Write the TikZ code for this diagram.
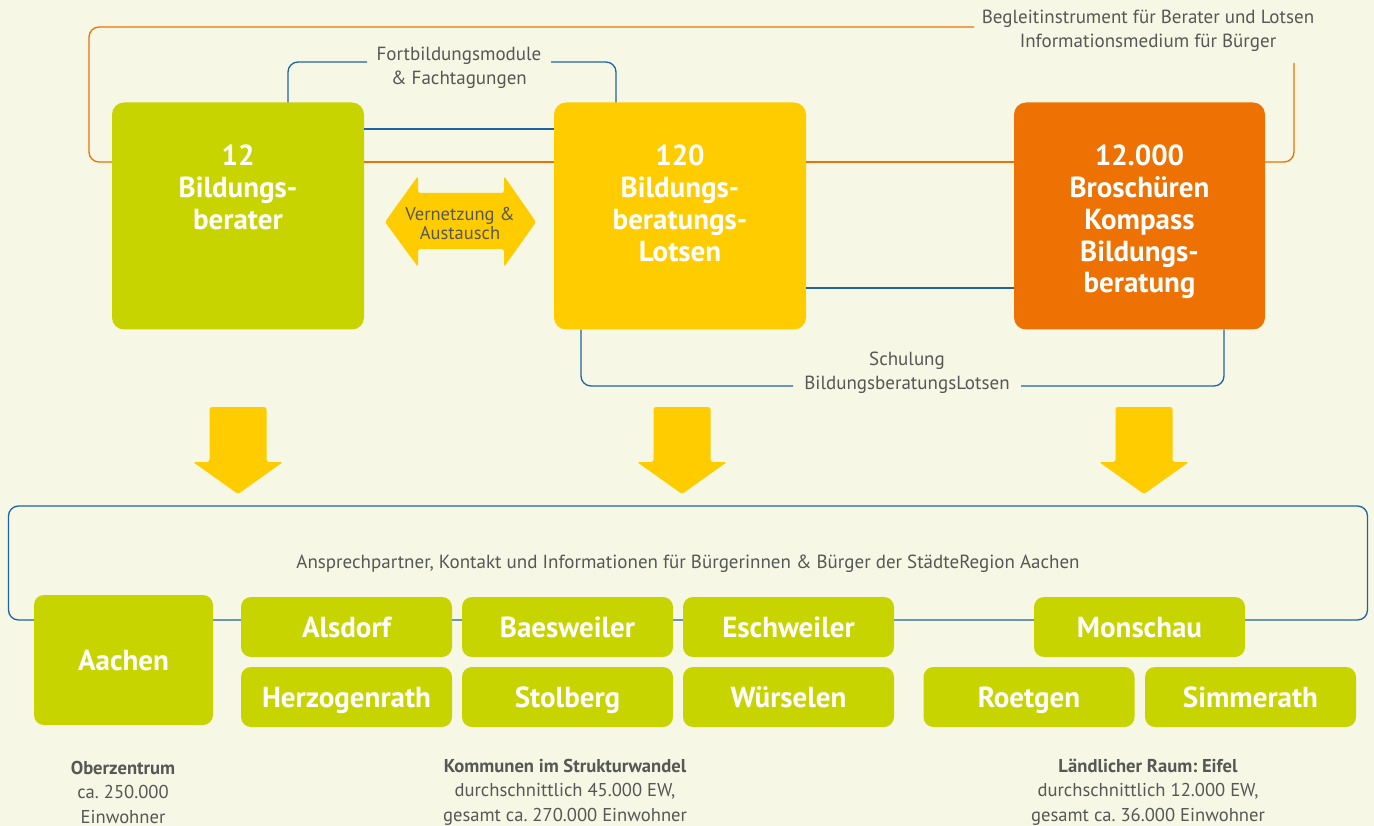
\documentclass[tikz,border=0pt]{standalone}
\usepackage{fontspec}
\setmainfont{PT Sans}
\frenchspacing
\definecolor{bg}{HTML}{F6F7E4}
\definecolor{cgreen}{HTML}{C8D400}
\definecolor{cyellow}{HTML}{FFCC00}
\definecolor{corange}{HTML}{EE7203}
\definecolor{cblue}{HTML}{1F63A3}
\definecolor{cgrey}{HTML}{575756}
\begin{document}
\begin{tikzpicture}[x=1pt,y=-1pt,
  bigbox/.style={rounded corners=12pt, inner sep=0pt, minimum width=252pt, minimum height=227pt},
  boxtext/.style={inner sep=0pt, text=white, align=center, font=\bfseries\fontsize{29}{31.7}\selectfont},
  smallbox/.style={fill=cgreen, rounded corners=10pt, inner sep=0pt, minimum width=211pt, minimum height=60pt, text=white, text height=20.5pt, text depth=0pt, font=\bfseries\fontsize{29}{30}\selectfont},
  label/.style={inner sep=0pt, text=cgrey, align=center, font=\fontsize{19}{24}\selectfont},
  caption/.style={inner sep=0pt, text=cgrey, align=center, font=\fontsize{18.6}{24.5}\selectfont},
  oline/.style={draw=corange, line width=1.3pt},
  bline/.style={draw=cblue, line width=1.3pt},
  fatarrow/.style={fill=cyellow, rounded corners=2.5pt}]
\useasboundingbox (0,0) rectangle (1374,826);
\fill[bg] (0,0) rectangle (1374,826);

% region container
\node[bline, rounded corners=10pt, minimum width=1359pt, minimum height=114pt, inner sep=0pt] (region) at (688,563) {};
\node[label] (regiontext) at (688,564) {Ansprechpartner, Kontakt und Informationen für Bürgerinnen \& Bürger der StädteRegion Aachen};

% top boxes
\node[bigbox, fill=cgreen] (b1) at (238,216) {};
\node[bigbox, fill=cyellow] (b2) at (680,216) {};
\node[bigbox, fill=corange, minimum width=251pt] (b3) at (1139.5,216) {};

\node[boxtext, anchor=north] (t1) at (238,145) {12\\Bildungs-\\berater};
\node[boxtext, anchor=north] (t2) at (680,145) {120\\Bildungs-\\beratungs-\\Lotsen};
\node[boxtext, anchor=north] (t3) at (1139.5,145) {12.000\\Broschüren\\Kompass\\Bildungs-\\beratung};

% orange connectors
\coordinate (oy) at (0,162);
\coordinate (otl) at (89,27);
\coordinate (otend) at (974,27);
\coordinate (ortop) at (1294,63);
\draw[oline, rounded corners=10pt] (b1.west |- oy) -| (otl) -- (otend);
\draw[oline] (b1.east |- oy) -- (b2.west |- oy);
\draw[oline] (b2.east |- oy) -- (b3.west |- oy);
\draw[oline, rounded corners=10pt] (ortop) |- (b3.east |- oy);
\node[label] (begleit) at (1148,31) {Begleitinstrument für Berater und Lotsen\\Informationsmedium für Bürger};

% blue connectors top
\coordinate (bl1) at (288,62);
\coordinate (bl1e) at (367,62);
\coordinate (br1s) at (551,62);
\coordinate (br1) at (616,62);
\draw[bline, rounded corners=10pt] (b1.north -| bl1) |- (bl1e);
\draw[bline, rounded corners=10pt] (br1s) -| (b2.north -| br1);
\node[label] (fortb) at (459,68) {Fortbildungsmodule\\\& Fachtagungen};
\coordinate (by1) at (0,129);
\draw[bline] (b1.east |- by1) -- (b2.west |- by1);
\coordinate (by2) at (0,288);
\draw[bline] (b2.east |- by2) -- (b3.west |- by2);

% blue bracket bottom
\coordinate (sl) at (581,386);
\coordinate (sle) at (793,386);
\coordinate (srs) at (1021,386);
\coordinate (sr) at (1224,386);
\draw[bline, rounded corners=10pt] (b2.south -| sl) |- (sle);
\draw[bline, rounded corners=10pt] (srs) -| (b3.south -| sr);
\node[label] (schul) at (907,372.5) {Schulung\\BildungsberatungsLotsen};

% double arrow
\fill[fatarrow] (385,222) -- (418,176) -- (418,193) -- (504,193) -- (504,176) -- (536,222) -- (504,267) -- (504,249) -- (418,249) -- (418,267) -- cycle;
\node[label, font=\fontsize{18.5}{19}\selectfont] (vern) at (460,223.5) {Vernetzung \&\\Austausch};

% down arrows
\foreach \cx in {238,682,1144}{
  \fill[fatarrow] (\cx-28.5,407) -- (\cx+28.5,407) -- (\cx+28.5,462) -- (\cx+45,462) -- (\cx,494) -- (\cx-45,462) -- (\cx-28.5,462) -- cycle;
}

% bottom boxes
\node[smallbox, minimum width=179pt, minimum height=130pt] (aachen) at (123.5,660) {Aachen};
\node[smallbox] (alsdorf) at (346.5,627) {Alsdorf};
\node[smallbox] (herzog) at (346.5,697) {Herzogenrath};
\node[smallbox] (baesw) at (567.5,627) {Baesweiler};
\node[smallbox] (stolb) at (567.5,697) {Stolberg};
\node[smallbox] (eschw) at (788.5,627) {Eschweiler};
\node[smallbox] (wuers) at (788.5,697) {Würselen};
\node[smallbox] (monsch) at (1139.5,627) {Monschau};
\node[smallbox] (roetg) at (1029,697) {Roetgen};
\node[smallbox] (simm) at (1250.5,697) {Simmerath};

% captions
\node[caption] (cap1) at (123,792) {\textbf{Oberzentrum}\\ca. 250.000\\Einwohner};
\node[caption] (cap2) at (565,792) {\textbf{Kommunen im Strukturwandel}\\durchschnittlich 45.000 EW,\\gesamt ca. 270.000 Einwohner};
\node[caption] (cap3) at (1148,792) {\textbf{Ländlicher Raum: Eifel}\\durchschnittlich 12.000 EW,\\gesamt ca. 36.000 Einwohner};
\end{tikzpicture}
\end{document}
